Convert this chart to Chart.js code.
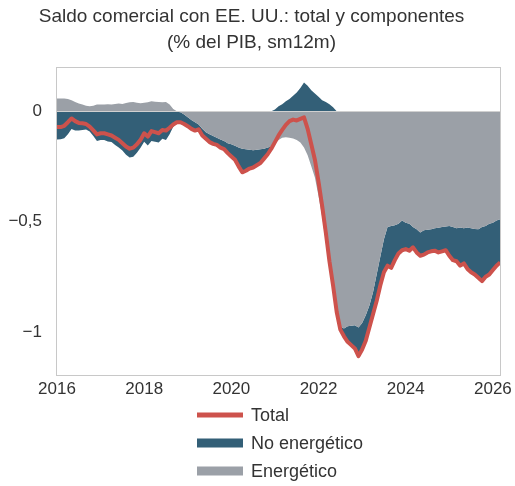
<!DOCTYPE html>
<html>
<head>
<meta charset="utf-8">
<script src="https://cdn.jsdelivr.net/npm/chart.js@4.4.1/dist/chart.umd.min.js"></script>
<style>
    html, body { margin: 0; padding: 0; background: #fff; }
    #wrap { width: 515px; height: 486px; position: relative; }
</style>
</head>
<body>
<div id="wrap"><canvas id="tradeChart" width="515" height="486"></canvas></div>
<script>
// monthly series, Jan 2016 - Mar 2026 (% of GDP, 12m sum)
const startYear = 2016;
const xTicks = [2016, 2018, 2020, 2022, 2024, 2026];
const yTicks = [-1, -0.5, 0];

const energy = [
    0.058, 0.057, 0.057, 0.055, 0.05, 0.042, 0.035, 0.03, 0.025, 0.022,
    0.025, 0.03, 0.03, 0.03, 0.032, 0.03, 0.033, 0.035, 0.033, 0.037,
    0.04, 0.042, 0.038, 0.036, 0.038, 0.04, 0.045, 0.043, 0.042, 0.04,
    0.042, 0.03, 0.01, -0.003, -0.005, -0.015, -0.028, -0.04, -0.05, -0.06,
    -0.08, -0.095, -0.105, -0.112, -0.12, -0.128, -0.135, -0.145, -0.15, -0.157,
    -0.165, -0.17, -0.172, -0.175, -0.177, -0.175, -0.172, -0.17, -0.165, -0.16,
    -0.145, -0.13, -0.12, -0.118, -0.12, -0.124, -0.13, -0.142, -0.165, -0.2,
    -0.25, -0.3, -0.385, -0.48, -0.59, -0.71, -0.805, -0.905, -0.975, -0.985,
    -0.975, -0.972, -0.97, -0.98, -0.96, -0.925, -0.88, -0.82, -0.74, -0.66,
    -0.58, -0.525, -0.52, -0.517, -0.51, -0.495, -0.505, -0.51, -0.525, -0.535,
    -0.55, -0.54, -0.537, -0.535, -0.53, -0.528, -0.525, -0.522, -0.52, -0.525,
    -0.53, -0.527, -0.53, -0.527, -0.53, -0.534, -0.535, -0.525, -0.52, -0.51,
    -0.505, -0.495, -0.49
];

const nonEnergy = [
    -0.128, -0.127, -0.123, -0.105, -0.081, -0.087, -0.088, -0.085, -0.083, -0.092,
    -0.112, -0.135, -0.13, -0.13, -0.137, -0.14, -0.153, -0.165, -0.178, -0.197,
    -0.21, -0.207, -0.188, -0.166, -0.138, -0.155, -0.135, -0.138, -0.142, -0.125,
    -0.13, -0.105, -0.07, -0.047, -0.045, -0.043, -0.04, -0.04, -0.038, -0.022,
    -0.03, -0.03, -0.035, -0.036, -0.033, -0.037, -0.037, -0.045, -0.055, -0.063,
    -0.085, -0.107, -0.098, -0.085, -0.078, -0.07, -0.063, -0.045, -0.03, -0.01,
    0.008, 0.022, 0.032, 0.045, 0.055, 0.07, 0.085, 0.105, 0.13, 0.115,
    0.095, 0.08, 0.065, 0.05, 0.042, 0.032, 0.018, 0, -0.015, -0.035,
    -0.07, -0.088, -0.105, -0.13, -0.12, -0.115, -0.10, -0.10, -0.12, -0.13,
    -0.15, -0.175, -0.19, -0.158, -0.135, -0.135, -0.12, -0.122, -0.092, -0.105,
    -0.105, -0.11, -0.103, -0.10, -0.102, -0.112, -0.11, -0.108, -0.135, -0.15,
    -0.15, -0.173, -0.16, -0.188, -0.2, -0.206, -0.22, -0.245, -0.23, -0.23,
    -0.215, -0.205, -0.195
];

const total = [
    -0.072, -0.072, -0.066, -0.05, -0.033, -0.045, -0.053, -0.055, -0.058, -0.07,
    -0.087, -0.105, -0.10, -0.10, -0.105, -0.11, -0.12, -0.13, -0.145, -0.16,
    -0.17, -0.165, -0.15, -0.13, -0.10, -0.115, -0.09, -0.095, -0.10, -0.085,
    -0.088, -0.075, -0.06, -0.05, -0.05, -0.058, -0.068, -0.08, -0.088, -0.082,
    -0.11, -0.125, -0.14, -0.148, -0.153, -0.165, -0.172, -0.19, -0.205, -0.22,
    -0.25, -0.277, -0.27, -0.26, -0.255, -0.245, -0.235, -0.215, -0.195, -0.17,
    -0.14, -0.11, -0.085, -0.062, -0.045, -0.038, -0.042, -0.035, -0.028, -0.08,
    -0.15, -0.22, -0.32, -0.43, -0.55, -0.68, -0.79, -0.91, -0.99, -1.02,
    -1.045, -1.06, -1.075, -1.11, -1.08, -1.04, -0.98, -0.92, -0.86, -0.79,
    -0.73, -0.70, -0.71, -0.675, -0.645, -0.63, -0.625, -0.632, -0.617, -0.64,
    -0.655, -0.65, -0.64, -0.635, -0.632, -0.64, -0.635, -0.63, -0.655, -0.675,
    -0.68, -0.70, -0.69, -0.715, -0.73, -0.74, -0.755, -0.77, -0.75, -0.74,
    -0.72, -0.70, -0.685
];

const RED = '#cd524c';
const TEAL = '#335f77';
const GRAY = '#9ba0a7';
const TEXT = '#333333';
const FONT = "'Liberation Sans', Arial, sans-serif";

// x position of each month
const toXY = arr => arr.map((v, i) => ({ x: startYear + i / 12, y: v }));

// positive and negative parts stack separately from zero
const energyPos = energy.map(v => Math.max(v, 0));
const energyNeg = energy.map(v => Math.min(v, 0));
const nonEnergyTop = energy.map((v, i) => Math.max(v, 0) + Math.max(nonEnergy[i], 0));
const nonEnergyBottom = energy.map((v, i) => Math.min(v, 0) + Math.min(nonEnergy[i], 0));

const fmtNum = v => (v < 0 ? '\u2212' : '') + String(Math.abs(v)).replace('.', ',');

// legend drawn by hand so it stacks vertically under the plot
const legendItems = [
    { text: 'Total', color: RED, type: 'line' },
    { text: 'No energético', color: TEAL, type: 'box' },
    { text: 'Energético', color: GRAY, type: 'box' }
];

const extrasPlugin = {
    id: 'extras',
    afterDatasetDraw(chart, args) {
        // zero line goes under the total line
        if (args.index !== 1) return;
        const { ctx, chartArea } = chart;
        const y0 = Math.round(chart.scales.y.getPixelForValue(0)) + 0.5;
        ctx.save();
        ctx.strokeStyle = '#d0d0d0';
        ctx.lineWidth = 1;
        ctx.beginPath();
        ctx.moveTo(chartArea.left, y0);
        ctx.lineTo(chartArea.right, y0);
        ctx.stroke();
        ctx.restore();
    },
    afterDraw(chart) {
        const { ctx, chartArea } = chart;
        ctx.save();
        // frame around the plot
        ctx.strokeStyle = '#c8c8c8';
        ctx.lineWidth = 1;
        ctx.strokeRect(Math.round(chartArea.left) - 0.5, Math.round(chartArea.top) + 0.5,
            Math.round(chartArea.right - chartArea.left) + 1, Math.round(chartArea.bottom - chartArea.top) - 1);

        const x0 = 197, boxW = 46, rowY = [415, 443, 471];
        ctx.font = '18px ' + FONT;
        ctx.textBaseline = 'middle';
        ctx.textAlign = 'left';
        legendItems.forEach((item, i) => {
            const y = rowY[i];
            ctx.fillStyle = item.color;
            if (item.type === 'line') {
                ctx.fillRect(x0, y - 2.5, boxW, 5);
            } else {
                ctx.fillRect(x0, y - 4.5, boxW, 9);
            }
            ctx.fillStyle = TEXT;
            ctx.fillText(item.text, x0 + boxW + 8, y + 1);
        });
        ctx.restore();
    }
};

const areaStyle = color => ({
    backgroundColor: color,
    borderColor: color,
    borderWidth: 0,
    pointRadius: 0,
    tension: 0
});

new Chart(document.getElementById('tradeChart'), {
    type: 'line',
    data: {
        datasets: [
            {
                label: 'Total',
                data: toXY(total),
                borderColor: RED,
                borderWidth: 4,
                pointRadius: 0,
                fill: false,
                tension: 0,
                borderJoinStyle: 'round'
            },
            Object.assign({ label: 'Energético', data: toXY(energyPos), fill: 'origin' }, areaStyle(GRAY)),
            Object.assign({ label: 'Energético', data: toXY(energyNeg), fill: 'origin' }, areaStyle(GRAY)),
            Object.assign({ label: 'No energético', data: toXY(nonEnergyTop), fill: 1 }, areaStyle(TEAL)),
            Object.assign({ label: 'No energético', data: toXY(nonEnergyBottom), fill: 2 }, areaStyle(TEAL))
        ]
    },
    options: {
        responsive: false,
        animation: false,
        layout: { padding: { left: 0, right: 12, top: 0, bottom: 86 } },
        plugins: {
            legend: { display: false },
            tooltip: { enabled: false },
            title: {
                display: true,
                text: ['Saldo comercial con EE. UU.: total y componentes', '(% del PIB, sm12m)'],
                color: TEXT,
                font: { family: FONT, size: 19, weight: 'normal', lineHeight: 1.37 },
                padding: { top: 4, bottom: 11 }
            }
        },
        scales: {
            x: {
                type: 'linear',
                min: startYear,
                max: startYear + (total.length - 1) / 12,
                grid: { display: false, drawTicks: false },
                border: { display: false },
                afterBuildTicks: s => { s.ticks = xTicks.map(v => ({ value: v })); },
                afterFit: s => { s.height = 24; },
                ticks: {
                    color: TEXT,
                    padding: 3,
                    maxRotation: 0,
                    font: { family: FONT, size: 17 },
                    callback: v => String(v)
                }
            },
            y: {
                min: -1.2,
                max: 0.2,
                grid: { display: false, drawTicks: false },
                border: { display: false },
                afterBuildTicks: s => { s.ticks = yTicks.map(v => ({ value: v })); },
                afterFit: s => { s.width = 57; },
                ticks: {
                    color: TEXT,
                    padding: 15,
                    font: { family: FONT, size: 17 },
                    callback: v => fmtNum(v)
                }
            }
        }
    },
    plugins: [extrasPlugin]
});
</script>
</body>
</html>
